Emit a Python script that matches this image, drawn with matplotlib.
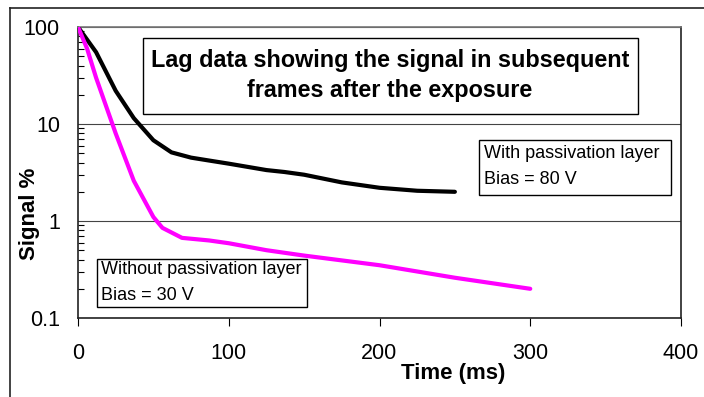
import matplotlib
matplotlib.use('Agg')
import matplotlib.pyplot as plt
from matplotlib.patches import Rectangle
from matplotlib.lines import Line2D
from matplotlib.ticker import LogLocator, NullFormatter, FixedLocator, FixedFormatter

plt.rcParams['font.family'] = ['Liberation Sans', 'DejaVu Sans']

# with passivation layer, bias 80 V
t_with = [0, 12, 25, 37, 50, 62, 75, 87, 100, 125, 137, 150, 175, 200, 225, 250]
sig_with = [100, 55, 22, 11.5, 6.8, 5.1, 4.5, 4.2, 3.9, 3.35, 3.2, 3.0, 2.5, 2.2, 2.05, 2.0]

# without passivation layer, bias 30 V
t_without = [0, 6, 12, 25, 37, 50, 56, 69, 87, 100, 125, 150, 200, 250, 300]
sig_without = [100, 60, 30, 8, 2.6, 1.1, 0.85, 0.67, 0.63, 0.59, 0.5, 0.44, 0.35, 0.26, 0.2]

y_ticks = [0.1, 1, 10, 100]
y_labels = ['0.1', '1', '10', '100']
x_ticks = [0, 100, 200, 300, 400]

W, H = 704, 397
fig = plt.figure(figsize=(W / 100, H / 100), dpi=100)
fig.patch.set_facecolor('white')


def fx(x):
    return x / W


def fy(y):
    return 1 - y / H


ax = fig.add_axes([fx(78), fy(318), fx(681) - fx(78), fy(27) - fy(318)])
ax.plot(t_with, sig_with, color='black', lw=3, solid_capstyle='round', zorder=3)
ax.plot(t_without, sig_without, color='#ff00ff', lw=3, solid_capstyle='round', zorder=3)

ax.set_yscale('log')
ax.set_ylim(0.1, 100)
ax.set_xlim(0, 400)
ax.yaxis.set_major_locator(FixedLocator(y_ticks))
ax.yaxis.set_major_formatter(FixedFormatter(y_labels))
ax.yaxis.set_minor_locator(LogLocator(base=10, subs=range(2, 10)))
ax.yaxis.set_minor_formatter(NullFormatter())
ax.set_xticks(x_ticks)
ax.tick_params(axis='y', which='major', length=0, pad=13, labelsize=15.5)
ax.tick_params(axis='y', which='minor', direction='in', length=4, width=0.8)
ax.tick_params(axis='x', direction='out', length=6, width=0.8, pad=12, labelsize=15.5)
ax.grid(axis='y', which='major', color='#444444', lw=0.8)
for s in ax.spines.values():
    s.set_color('#222222')
    s.set_linewidth(1.2)
ax.spines['top'].set_color('#777777')

# outer chart border (top and left only visible)
fig.lines.append(Line2D([fx(10), 1.0], [fy(8), fy(8)], transform=fig.transFigure,
                        color='#222222', lw=1.2))
fig.lines.append(Line2D([fx(10), fx(10)], [0, fy(8)], transform=fig.transFigure,
                        color='#222222', lw=1.2))

# title box
fig.patches.append(Rectangle((fx(143), fy(114)), fx(638) - fx(143), fy(38) - fy(114),
                             transform=fig.transFigure, fill=False, edgecolor='black', lw=1))
fig.text(fx(390), fy(61), 'Lag data showing the signal in subsequent', ha='center', va='center',
         fontsize=16.8, fontweight='bold')
fig.text(fx(390), fy(91), 'frames after the exposure', ha='center', va='center',
         fontsize=16.8, fontweight='bold')

# annotation boxes
fig.patches.append(Rectangle((fx(479), fy(195)), fx(671) - fx(479), fy(140) - fy(195),
                             transform=fig.transFigure, facecolor='white', edgecolor='black', lw=1))
fig.text(fx(484), fy(153), 'With passivation layer', ha='left', va='center', fontsize=13)
fig.text(fx(484), fy(179), 'Bias = 80 V', ha='left', va='center', fontsize=13)

fig.patches.append(Rectangle((fx(97), fy(307)), fx(307) - fx(97), fy(259) - fy(307),
                             transform=fig.transFigure, facecolor='white', edgecolor='black', lw=1))
fig.text(fx(101), fy(270), 'Without passivation layer', ha='left', va='center', fontsize=13)
fig.text(fx(101), fy(295), 'Bias = 30 V', ha='left', va='center', fontsize=13)

# axis labels
fig.text(fx(30), fy(214), 'Signal %', rotation=90, ha='center', va='center',
         fontsize=16, fontweight='bold')
fig.text(fx(453), fy(373), 'Time (ms)', ha='center', va='center', fontsize=16, fontweight='bold')

fig.savefig('out.png', dpi=100)
